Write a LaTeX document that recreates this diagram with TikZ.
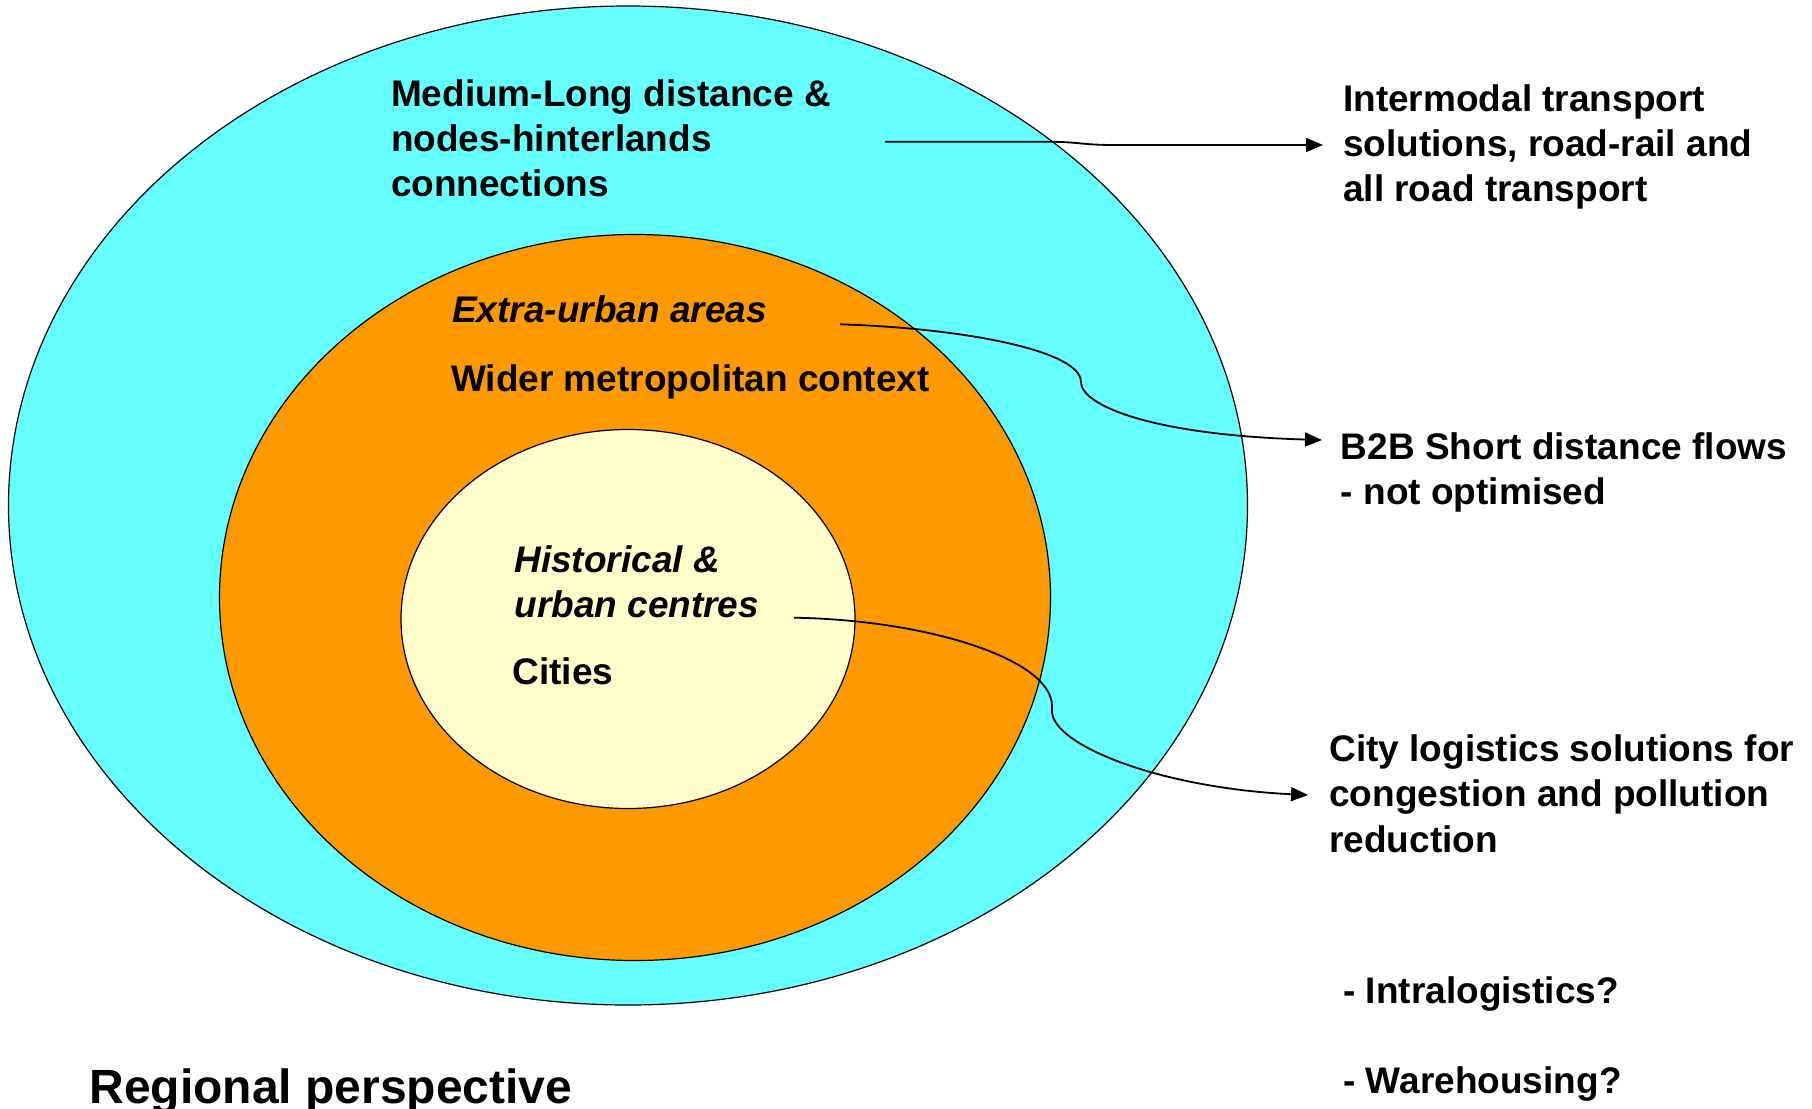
\documentclass[tikz,border=0pt]{standalone}
\usepackage{fontspec}
\setmainfont{Liberation Sans}
\usetikzlibrary{shapes.geometric,arrows.meta}
\definecolor{outerc}{HTML}{66FFFF}
\definecolor{midc}{HTML}{FF9900}
\definecolor{innerc}{HTML}{FFFFCC}
\tikzset{
  ring/.style={ellipse, draw=black, line width=0.6pt, inner sep=0pt},
  txt/.style={font=\bfseries\fontsize{18.5}{22}\selectfont, anchor=base west, inner sep=0pt},
  itxt/.style={font=\bfseries\itshape\fontsize{18.5}{22}\selectfont, anchor=base west, inner sep=0pt},
  ttl/.style={font=\bfseries\fontsize{24}{28}\selectfont, anchor=base west, inner sep=0pt},
  arr/.style={-{Triangle[length=8.5pt,width=7pt]}, line width=0.9pt}
}
\begin{document}
\begin{tikzpicture}[x=0.5pt,y=-0.5pt]
\useasboundingbox (0,0) rectangle (1812,1109);
% ellipses
\node[ring, fill=outerc, minimum width=619.5pt, minimum height=499.5pt] (outer) at (628,505.5) {};
\node[ring, fill=midc, minimum width=415.5pt, minimum height=363pt] (mid) at (635,597.5) {};
\node[ring, fill=innerc, minimum width=227pt, minimum height=189.5pt] (inner) at (628,619) {};
% texts in circles
\node[txt] (ml1) at (390.6,106.6) {Medium-Long distance \&};
\node[txt] (ml2) at (390.6,151.7) {nodes-hinterlands};
\node[txt] (ml3) at (390.6,196.7) {connections};
\node[itxt] (eu) at (451.8,322.7) {Extra-urban areas};
\node[txt] (wm) at (450.7,391) {Wider metropolitan context};
\node[itxt] (hi1) at (514,572.3) {Historical \&};
\node[itxt] (hi2) at (514,617.4) {urban centres};
\node[txt] (ci) at (512,684.4) {Cities};
% right texts
\node[txt] (im1) at (1342.8,111) {Intermodal transport};
\node[txt] (im2) at (1342.8,156) {solutions, road-rail and};
\node[txt] (im3) at (1342.8,201) {all road transport};
\node[txt] (b2b1) at (1340.5,459) {B2B Short distance flows};
\node[txt] (b2b2) at (1340.5,504) {- not optimised};
\node[txt] (cl1) at (1329,761.8) {City logistics solutions for};
\node[txt] (cl2) at (1329,806.9) {congestion and pollution};
\node[txt] (cl3) at (1329,852) {reduction};
\node[txt] (il) at (1343,1003) {- Intralogistics?};
\node[txt] (wh) at (1343,1093) {- Warehousing?};
\node[ttl] (rp) at (89,1103) {Regional perspective};
% connector end points
\coordinate (a1s) at (885,141.7);
\coordinate (a1e) at (1323,145);
\coordinate (a2s) at (840,324.3);
\coordinate (a2k) at (1081,382);
\coordinate (a2e) at (1322,440);
\coordinate (a3s) at (794,617.7);
\coordinate (a3k) at (1052,706);
\coordinate (a3e) at (1308,795);
% connectors
\draw[arr] (a1s) -- (1045,141.7) .. controls (1080,141.7) and (1080,145) .. (1115,145) -- (a1e);
\draw[arr] (a2s) .. controls (960,328) and (1081,350) .. (a2k)
  .. controls (1081,405) and (1150,435) .. (a2e);
\draw[arr] (a3s) .. controls (930,620) and (1052,660) .. (a3k) -- (1052,711)
  .. controls (1052,745) and (1160,788) .. (a3e);
\end{tikzpicture}
\end{document}
